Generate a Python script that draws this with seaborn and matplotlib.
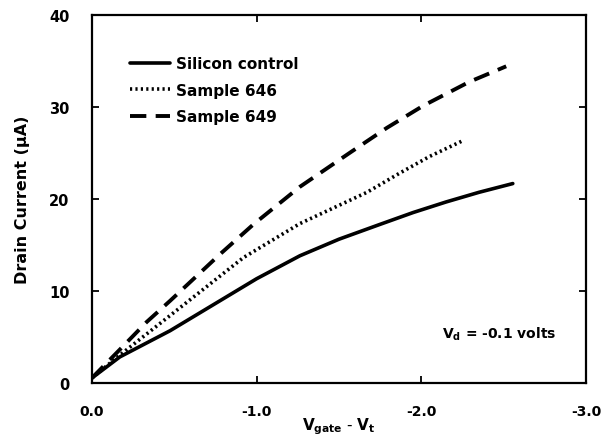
import numpy as np
import pandas as pd
import matplotlib
matplotlib.use("Agg")
import matplotlib.pyplot as plt
import seaborn as sns

# Valores (V_gate - V_t en voltios, corriente en uA)
silicon_v = [0.0, -0.17, -0.475, -1.0, -1.263, -1.50, -1.747, -1.95, -2.15, -2.35, -2.555]
silicon_i = [0.5, 2.8, 5.65, 11.3, 13.8, 15.6, 17.2, 18.5, 19.65, 20.7, 21.65]

s646_v = [0.0, -0.17, -0.475, -0.92, -1.263, -1.67, -1.87, -2.05, -2.25]
s646_i = [0.5, 3.0, 7.3, 13.6, 17.3, 20.7, 22.8, 24.6, 26.3]

s649_v = [0.0, -0.17, -0.333, -0.475, -0.78, -0.98, -1.263, -1.566, -1.79, -2.01, -2.29, -2.515]
s649_i = [0.5, 3.6, 6.6, 8.9, 14.0, 17.2, 21.3, 25.0, 27.7, 30.1, 32.7, 34.4]

labels = ["Silicon control", "Sample 646", "Sample 649"]
x_ticks = [0.0, -1.0, -2.0, -3.0]
y_ticks = [0, 10, 20, 30, 40]

sns.set_style("ticks")
plt.rcParams['font.family'] = ['DejaVu Sans']
plt.rcParams['font.weight'] = 'bold'
plt.rcParams['text.color'] = 'black'
plt.rcParams['axes.labelcolor'] = 'black'
plt.rcParams['xtick.color'] = 'black'
plt.rcParams['ytick.color'] = 'black'

fig = plt.figure(figsize=(6.08, 4.39), dpi=100)
ax = fig.add_axes([0.151, 0.126, 0.813, 0.838])

sns.lineplot(x=silicon_v, y=silicon_i, ax=ax, color='black', linewidth=2.6,
             label=labels[0], sort=False)
sns.lineplot(x=s646_v, y=s646_i, ax=ax, color='black', linewidth=2.6,
             linestyle=(0, (0.6, 0.9)), label=labels[1], sort=False)
sns.lineplot(x=s649_v, y=s649_i, ax=ax, color='black', linewidth=2.8,
             linestyle=(0, (4.2, 2.4)), label=labels[2], sort=False)

ax.set_xlim(0, -3.0)
ax.set_ylim(0, 40)
ax.set_xticks(x_ticks)
ax.set_xticklabels([f"{t:.1f}" for t in x_ticks], fontsize=10, fontweight='bold')
ax.set_yticks(y_ticks)
ax.set_yticklabels([str(t) for t in y_ticks], fontsize=10.5, fontweight='bold')
ax.tick_params(direction='in', length=5, width=1.3, top=True, right=True)
ax.tick_params(axis='x', pad=15)
ax.tick_params(axis='y', pad=16)

for side in ['left', 'right', 'top', 'bottom']:
    ax.spines[side].set_linewidth(1.6)
    ax.spines[side].set_color('black')

ax.set_ylabel("Drain Current (\u03bcA)", fontsize=11.5, fontweight='bold', labelpad=14)
ax.set_xlabel(r"$\mathbf{V_{gate}}$ - $\mathbf{V_t}$", fontsize=11, labelpad=2)
ax.xaxis.set_label_coords(0.5, -0.09)

ax.text(-2.47, 5.4, r"$\mathbf{V_d}$ = -0.1 volts", fontsize=10, fontweight='bold',
        ha='center', va='center')

leg = ax.legend(loc='upper left', bbox_to_anchor=(0.05, 0.925), frameon=False,
                handlelength=2.6, handletextpad=0.4, labelspacing=0.75,
                prop={'weight': 'bold', 'size': 11})

fig.savefig("out.png", dpi=100)
